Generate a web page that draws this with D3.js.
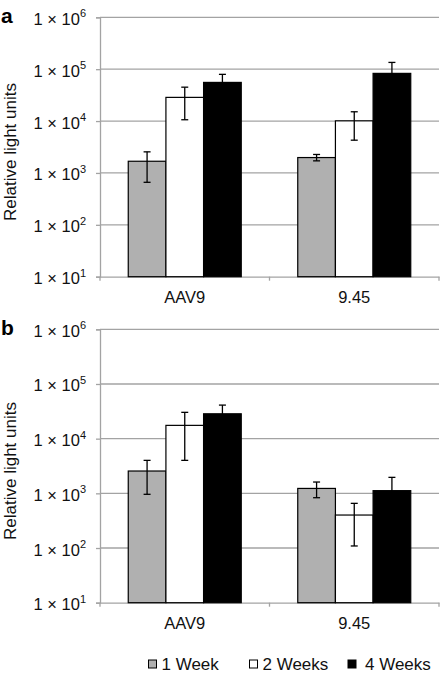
<!DOCTYPE html>
<html><head><meta charset="utf-8">
<script src="https://cdn.jsdelivr.net/npm/d3@7"></script>
<style>body{margin:0;background:#fff}svg{display:block;font-family:"Liberation Sans",Arial,sans-serif}</style>
</head><body><svg id="c" width="440" height="675"></svg>
<script>
const categories = ["AAV9", "9.45"];
const seriesNames = ["1 Week", "2 Weeks", "4 Weeks"];
const yTickExponents = [1, 2, 3, 4, 5, 6];
const yTitle = "Relative light units";

// Panel a
const a_week1 = [1680, 1980];
const a_week1Hi = [2550, 2270];
const a_week1Lo = [660, 1710];
const a_week2 = [28600, 10100];
const a_week2Hi = [45000, 15100];
const a_week2Lo = [10600, 4280];
const a_week4 = [55600, 83000];
const a_week4Hi = [79500, 135000];
const a_week4Lo = [31700, 31000];

// Panel b
const b_week1 = [2560, 1230];
const b_week1Hi = [4010, 1610];
const b_week1Lo = [960, 832];
const b_week2 = [17500, 401];
const b_week2Hi = [30300, 656];
const b_week2Lo = [4010, 109];
const b_week4 = [28500, 1120];
const b_week4Hi = [41100, 1960];
const b_week4Lo = [15900, 280];

const fills = ["#b0b0b0", "#ffffff", "#000000"];
const gridColor = "#a3a3a3";

const svg = d3.select("#c");

function panel(letter, top, bottom, vals, his, los) {
  const left = 100, right = 439;
  const x0 = d3.scaleBand().domain(categories).range([left, right]).paddingInner(0).paddingOuter(0);
  const bw = x0.bandwidth() / 4.5;
  const x1 = d3.scaleBand().domain(seriesNames).range([0.75 * bw, 3.75 * bw]).padding(0);
  const y = d3.scaleLog().domain([10, 1e6]).range([bottom, top]);
  const g = svg.append("g");

  const ticks = yTickExponents.map(e => Math.pow(10, e));
  g.selectAll("line.grid").data(ticks.slice(1)).join("line")
    .attr("x1", left).attr("x2", right)
    .attr("y1", d => y(d)).attr("y2", d => y(d))
    .attr("stroke", gridColor).attr("stroke-width", 1.3);

  const yAxis = d3.axisLeft(y).tickValues(ticks).tickSize(4).tickFormat("");
  const ya = g.append("g").attr("transform", `translate(${left},0)`).call(yAxis);
  ya.select(".domain").attr("stroke", gridColor).attr("stroke-width", 1.3);
  ya.selectAll(".tick line").attr("stroke", gridColor).attr("stroke-width", 1.3);

  yTickExponents.forEach(e => {
    const t = g.append("text").attr("x", 86).attr("y", y(Math.pow(10, e)) + 7.5)
      .attr("text-anchor", "end").attr("font-size", 16.5).attr("fill", "#111");
    t.append("tspan").text("1 \u00d7 10");
    t.append("tspan").attr("font-size", 11).attr("dy", -7.5).text(String(e));
  });

  const xa = g.append("g").attr("transform", `translate(0,${bottom})`)
    .call(d3.axisBottom(x0).tickSize(0).tickFormat(""));
  xa.select(".domain").attr("stroke", gridColor).attr("stroke-width", 1.3);
  xa.selectAll(".tick").remove();
  const bounds = [left, x0(categories[1]), right];
  g.selectAll("line.xt").data(bounds).join("line")
    .attr("x1", d => d).attr("x2", d => d).attr("y1", bottom).attr("y2", bottom + 4)
    .attr("stroke", gridColor).attr("stroke-width", 1.3);

  categories.forEach(c => {
    g.append("text").attr("x", x0(c) + x0.bandwidth() / 2).attr("y", bottom + 26.5)
      .attr("text-anchor", "middle").attr("font-size", 16.5).attr("fill", "#111").text(c);
  });

  seriesNames.forEach((s, si) => {
    categories.forEach((c, ci) => {
      const bx = x0(c) + x1(s);
      const v = vals[si][ci];
      g.append("rect").attr("x", bx).attr("width", x1.bandwidth())
        .attr("y", y(v)).attr("height", bottom - y(v))
        .attr("fill", fills[si]).attr("stroke", "#000").attr("stroke-width", 1.2);
    });
  });
  seriesNames.forEach((s, si) => {
    categories.forEach((c, ci) => {
      const cx = x0(c) + x1(s) + x1.bandwidth() / 2;
      const hi = y(his[si][ci]), lo = y(los[si][ci]);
      const eg = g.append("g").attr("stroke", "#000").attr("stroke-width", 1.3);
      eg.append("line").attr("x1", cx).attr("x2", cx).attr("y1", hi).attr("y2", lo);
      eg.append("line").attr("x1", cx - 3.5).attr("x2", cx + 3.5).attr("y1", hi).attr("y2", hi);
      eg.append("line").attr("x1", cx - 3.5).attr("x2", cx + 3.5).attr("y1", lo).attr("y2", lo);
    });
  });

  g.append("text").attr("transform", `translate(15.5,${(top + bottom) / 2 + 5}) rotate(-90)`)
    .attr("text-anchor", "middle").attr("font-size", 17).attr("fill", "#111").text(yTitle);

  g.append("text").attr("x", 1).attr("y", top + 6).attr("font-size", 21)
    .attr("font-weight", "bold").attr("fill", "#000").text(letter);
}

panel("a", 17.3, 276.7,
  [a_week1, a_week2, a_week4], [a_week1Hi, a_week2Hi, a_week4Hi], [a_week1Lo, a_week2Lo, a_week4Lo]);
panel("b", 329.3, 602.7,
  [b_week1, b_week2, b_week4], [b_week1Hi, b_week2Hi, b_week4Hi], [b_week1Lo, b_week2Lo, b_week4Lo]);

const legSq = [148.5, 249.5, 348];
const legTx = [161.5, 262.5, 365];
const leg = svg.append("g");
seriesNames.forEach((s, i) => {
  leg.append("rect").attr("x", legSq[i]).attr("y", 660).attr("width", 8).attr("height", 8)
    .attr("fill", fills[i]).attr("stroke", "#000").attr("stroke-width", 1);
  leg.append("text").attr("x", legTx[i]).attr("y", 669.5).attr("font-size", 17)
    .attr("fill", "#111").text(s);
});
</script></body></html>
